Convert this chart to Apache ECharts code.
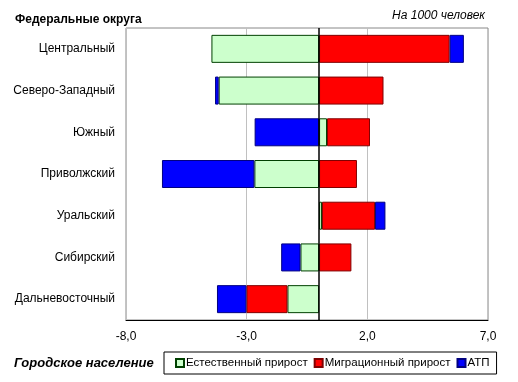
<!DOCTYPE html>
<html><head><meta charset="utf-8">
<script src="https://cdn.jsdelivr.net/npm/echarts@6/dist/echarts.min.js"></script>
<style>html,body{margin:0;padding:0;background:#fff}#c{width:518px;height:382px}</style>
</head><body><div id="c"></div>
<script>
const categories = ['Центральный','Северо-Западный','Южный','Приволжский','Уральский','Сибирский','Дальневосточный'];
const natural = [-4.46,-4.16,0.33,-2.68,0.12,-0.77,-1.31];
const migration = [5.41,2.67,1.78,1.57,2.2,1.34,-1.70];
const atp = [0.59,-0.15,-2.67,-3.83,0.43,-0.80,-1.22];
const seriesNames = ['Естественный прирост','Миграционный прирост','АТП'];
const xTicks = {min:-8, max:7, interval:5};

const F = "'Liberation Sans', Arial, sans-serif";
const chart = echarts.init(document.getElementById('c'));
function bar(name, data, fill, border, extra){
  return Object.assign({
    name, type:'bar', stack:'t', data, barWidth:28,
    itemStyle:{color:fill, borderColor:border, borderWidth:1},
    emphasis:{disabled:true}, animation:false
  }, extra||{});
}
chart.setOption({
  animation:false,
  textStyle:{fontFamily:F},
  grid:{left:126,right:30,top:28,bottom:62,show:true,borderColor:'#888',borderWidth:1},
  xAxis:{type:'value',min:xTicks.min,max:xTicks.max,interval:xTicks.interval,
    axisLine:{show:true,lineStyle:{color:'#000',width:1}},
    axisTick:{show:false},
    splitLine:{lineStyle:{color:'#c0c0c0',width:1}},
    axisLabel:{color:'#000',fontSize:12,fontFamily:F,margin:11,
      formatter:v=>v.toFixed(1).replace('.',',')}},
  yAxis:{type:'category',data:categories,inverse:true,
    axisLine:{show:false,onZero:false},axisTick:{show:false},
    axisLabel:{color:'#000',fontSize:12,fontFamily:F,margin:11}},
  legend:{left:164,top:352,width:340,padding:[5,7,5,11],itemGap:6,itemWidth:8,itemHeight:8,
    borderColor:'#000',borderWidth:1,
    textStyle:{color:'#000',fontSize:11.5,fontFamily:F,padding:[0,0,0,-3]},
    data:seriesNames.map(n=>({name:n,icon:'rect'}))},
  graphic:[
    {type:'text',left:15,top:14,style:{text:'Федеральные округа',font:"bold 12px "+F,fill:'#000'}},
    {type:'text',right:33,top:10,style:{text:'На 1000 человек',font:"italic 12px "+F,fill:'#000'}},
    {type:'text',left:14,top:357,style:{text:'Городское население',font:"bold italic 13px "+F,fill:'#000'}}
  ],
  series:[
    bar(seriesNames[0], natural, '#ccffcc', '#004000', {
      markLine:{silent:true,symbol:'none',label:{show:false},animation:false,
        lineStyle:{color:'#000',type:'solid',width:1.5},data:[{xAxis:0}]}
    }),
    bar(seriesNames[1], migration, '#ff0000', '#800000'),
    bar(seriesNames[2], atp, '#0000ff', '#000080')
  ]
});
</script></body></html>
